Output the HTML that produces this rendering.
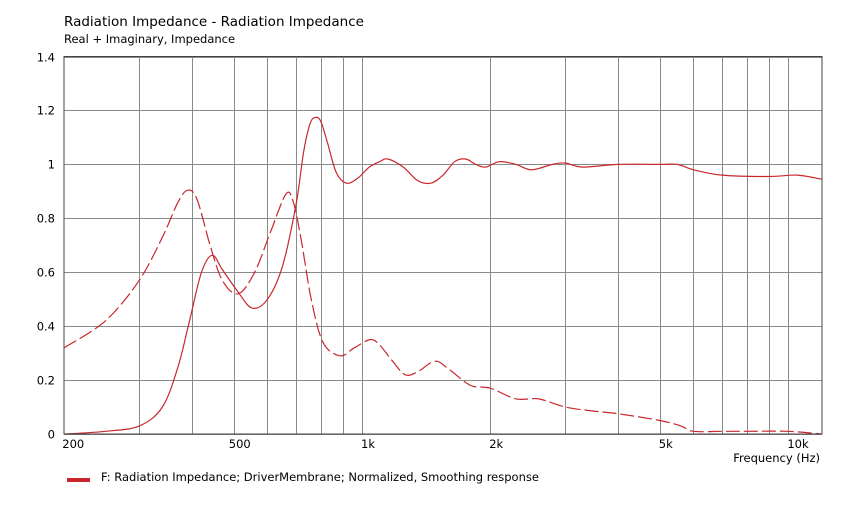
<!DOCTYPE html>
<html><head><meta charset="utf-8"><style>
body{margin:0;background:#fff;width:844px;height:510px;overflow:hidden;font-family:"DejaVu Sans","Liberation Sans",sans-serif;}
svg text{font-family:"DejaVu Sans","Liberation Sans",sans-serif;fill:#000;}
</style></head><body>
<svg id="chart" width="844" height="510" xmlns="http://www.w3.org/2000/svg">
<text x="64" y="26" font-size="13.5">Radiation Impedance - Radiation Impedance</text>
<text x="64" y="43" font-size="11.5">Real + Imaginary, Impedance</text>
<g id="grid"></g><g id="series"></g><g id="labels"></g>
<rect x="64" y="56.5" width="758" height="377.5" fill="none" stroke="#444" stroke-width="1"/>
<text x="820" y="462" font-size="11.5" text-anchor="end">Frequency  (Hz)</text>
<rect x="67" y="478" width="23" height="4" fill="#c8282c"/>
<text x="101" y="481" font-size="11.5">F: Radiation Impedance;  DriverMembrane; Normalized, Smoothing response</text>
</svg>
<script>
const yTicks=[0,0.2,0.4,0.6,0.8,1,1.2,1.4];
const yTickLabels=["0","0.2","0.4","0.6","0.8","1","1.2","1.4"];
const xGrid=[300,400,500,600,700,800,900,1000,2000,3000,4000,5000,6000,7000,8000,9000,10000];
const xTickVals=[200,500,1000,2000,5000,10000];
const xTickLabels=["200","500","1k","2k","5k","10k"];
const realFreq=[200,250,300,340,370,395,420,445,470,510,552,600,650,700,730,755,776,800,830,870,920,980,1040,1100,1150,1250,1350,1450,1550,1650,1750,1850,1950,2100,2300,2500,2800,3000,3300,4000,5000,5500,6000,7000,9000,10500,12000];
const realVal=[0.0,0.01,0.03,0.1,0.25,0.43,0.6,0.663,0.61,0.53,0.467,0.5,0.62,0.85,1.05,1.15,1.174,1.16,1.08,0.97,0.93,0.95,0.99,1.01,1.02,0.99,0.94,0.93,0.96,1.01,1.02,1.0,0.99,1.01,1.0,0.98,1.0,1.005,0.99,1.0,1.0,1.0,0.98,0.96,0.955,0.96,0.945];
const imagFreq=[200,250,300,340,370,390,410,440,470,512,560,610,663,690,720,760,810,888,960,1045,1100,1180,1262,1350,1483,1600,1800,2000,2300,2600,3000,3500,4000,5000,5600,6000,7000,8000,10000,12000];
const imagVal=[0.32,0.42,0.57,0.73,0.86,0.904,0.87,0.7,0.57,0.52,0.6,0.75,0.89,0.86,0.72,0.5,0.34,0.29,0.32,0.35,0.33,0.27,0.22,0.23,0.27,0.24,0.18,0.17,0.13,0.13,0.1,0.085,0.075,0.05,0.03,0.01,0.01,0.01,0.01,0.0];
const X0=64,X1=822,Y0=434,Y1=56.5;
const fx=f=>362+426*Math.log10(f/1000);
const fy=v=>Y0-(v/1.4)*(Y0-Y1);
const NS="http://www.w3.org/2000/svg";
function mk(t,a,p){const e=document.createElementNS(NS,t);for(const k in a)e.setAttribute(k,a[k]);p.appendChild(e);return e;}
const grid=document.getElementById('grid'),labels=document.getElementById('labels'),series=document.getElementById('series');
yTicks.forEach((v,i)=>{const y=Math.round(fy(v))+0.5;
 const l=mk('line',{x1:X0,x2:X1,y1:y,y2:y,stroke:'#8a8a8a','stroke-width':1},grid);
 
 
 const t=mk('text',{x:55,y:y+4,'font-size':11.5,'text-anchor':'end'},labels);t.textContent=yTickLabels[i];
 
 
});
xGrid.forEach(f=>{const x=Math.round(fx(f))+0.5;
 const l=mk('line',{x1:x,x2:x,y1:Y1,y2:Y0,stroke:'#8a8a8a','stroke-width':1},grid);
 
 
});
xTickVals.forEach((f,i)=>{const x=fx(f);
 const t=mk('text',{x:x+(i==0?9:(i==5?10:6)),y:448,'font-size':11.5,'text-anchor':'middle'},labels);t.textContent=xTickLabels[i];
 
 
});
function pathFor(fs,vs){const p=fs.map((f,i)=>[Math.min(X1,fx(f)),fy(vs[i])]);
 let d='M'+p[0][0].toFixed(1)+','+p[0][1].toFixed(1);
 for(let i=0;i<p.length-1;i++){const a=p[Math.max(0,i-1)],b=p[i],c=p[i+1],e=p[Math.min(p.length-1,i+2)];
  const c1=[b[0]+(c[0]-a[0])/6,b[1]+(c[1]-a[1])/6],c2=[c[0]-(e[0]-b[0])/6,c[1]-(e[1]-b[1])/6];
  d+=' C'+c1.map(n=>n.toFixed(1))+' '+c2.map(n=>n.toFixed(1))+' '+c[0].toFixed(1)+','+c[1].toFixed(1);}
 return d;}
const r=mk('path',{d:pathFor(realFreq,realVal),fill:'none',stroke:'#c8282c','stroke-width':1.2},series);


const im=mk('path',{d:pathFor(imagFreq,imagVal),fill:'none',stroke:'#c8282c','stroke-width':1.2,'stroke-dasharray':'14,4'},series);


</script>
</body></html>
